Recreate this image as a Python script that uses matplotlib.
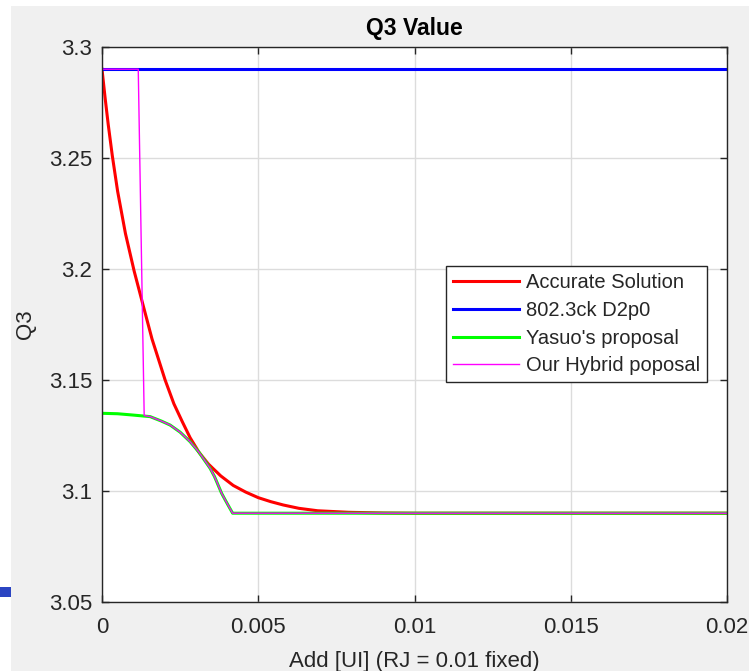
import matplotlib
matplotlib.use('Agg')
import matplotlib.pyplot as plt
from matplotlib.patches import Rectangle

plt.rcParams['font.family'] = ['Liberation Sans', 'DejaVu Sans']

# valores
x_exata = [0, 0.0001, 0.0002, 0.00033, 0.0005, 0.00075, 0.00103, 0.0013, 0.0016, 0.00202,
           0.0023, 0.00257, 0.00282, 0.0031, 0.0034, 0.0038, 0.0042, 0.0046, 0.005, 0.0054,
           0.0058, 0.0063, 0.0069, 0.0079, 0.009, 0.01, 0.02]
q3_exata = [3.290, 3.277, 3.265, 3.251, 3.235, 3.216, 3.199, 3.1845, 3.1685, 3.150,
            3.1393, 3.1312, 3.1240, 3.1175, 3.1122, 3.1068, 3.1025, 3.0995, 3.0970, 3.0952,
            3.0937, 3.0922, 3.0911, 3.0904, 3.0901, 3.0900, 3.0900]

x_d2p0 = [0, 0.02]
q3_d2p0 = [3.29, 3.29]

x_yasuo = [0, 0.0005, 0.001, 0.00154, 0.0019, 0.00218, 0.0025, 0.00282, 0.0031, 0.00346,
           0.0036, 0.00383, 0.004, 0.00418, 0.02]
q3_yasuo = [3.135, 3.1348, 3.1342, 3.1335, 3.1315, 3.1297, 3.1265, 3.1222, 3.1175, 3.1102,
            3.1065, 3.0989, 3.0945, 3.0900, 3.0900]

x_hibrido = [0, 0.00116, 0.00135, 0.00154, 0.0019, 0.00218, 0.0025, 0.00282, 0.0031, 0.00346,
             0.0036, 0.00383, 0.004, 0.00418, 0.02]
q3_hibrido = [3.29, 3.29, 3.134, 3.1335, 3.1315, 3.1297, 3.1265, 3.1222, 3.1175, 3.1102,
              3.1065, 3.0989, 3.0945, 3.0900, 3.0900]

legendas = ['Accurate Solution', '802.3ck D2p0', "Yasuo's proposal", 'Our Hybrid poposal']

fig = plt.figure(figsize=(7.49, 6.71), dpi=100, facecolor='white')
# fundo cinza estilo MATLAB
fig.patches.append(Rectangle((11/749, 0), 1, 1 - 6/671, transform=fig.transFigure,
                             facecolor='#f0f0f0', edgecolor='none', zorder=-10))
fig.patches.append(Rectangle((0, 1 - 597/671), 11/749, 10/671, transform=fig.transFigure,
                             facecolor='#2b45c2', edgecolor='none', zorder=-5))

ax = fig.add_axes([102/749, 1 - 602/671, 625/749, 555/671])
ax.set_facecolor('white')

ax.plot(x_exata, q3_exata, color='#ff0000', lw=2.2, label=legendas[0])
ax.plot(x_d2p0, q3_d2p0, color='#0000ff', lw=2.2, label=legendas[1])
ax.plot(x_yasuo, q3_yasuo, color='#00ff00', lw=2.2, label=legendas[2])
ax.plot(x_hibrido, q3_hibrido, color='#ff00ff', lw=1.0, label=legendas[3])

ax.set_xlim(0, 0.02)
ax.set_ylim(3.05, 3.3)
ax.set_xticks([0, 0.005, 0.01, 0.015, 0.02])
ax.set_xticklabels(['0', '0.005', '0.01', '0.015', '0.02'])
ax.set_yticks([3.05, 3.1, 3.15, 3.2, 3.25, 3.3])
ax.set_yticklabels(['3.05', '3.1', '3.15', '3.2', '3.25', '3.3'])
ax.grid(True, color='#dcdcdc', lw=1)
ax.set_axisbelow(True)
ax.tick_params(direction='in', top=True, right=True, length=5, width=1,
               labelsize=16, labelcolor='#262626', color='#262626')
ax.tick_params(axis='x', pad=11)
ax.tick_params(axis='y', pad=7)
for s in ax.spines.values():
    s.set_color('#262626')
    s.set_linewidth(1)

ax.set_title('Q3 Value', fontsize=16.5, fontweight='bold', color='#000000', pad=9)
ax.set_xlabel('Add [UI] (RJ = 0.01 fixed)', fontsize=16, color='#262626', labelpad=9)
ax.set_ylabel('Q3', fontsize=16, color='#262626', labelpad=9)

leg = ax.legend(loc='upper left', bbox_to_anchor=(0.55, 0.605), borderaxespad=0,
                fontsize=14.5, fancybox=False, framealpha=1, edgecolor='#262626',
                handlelength=3.3, handletextpad=0.35, labelspacing=0.43, borderpad=0.35)
leg.get_frame().set_linewidth(1)
for t in leg.get_texts():
    t.set_color('#262626')

fig.savefig('out.png', dpi=100, facecolor=fig.get_facecolor())
